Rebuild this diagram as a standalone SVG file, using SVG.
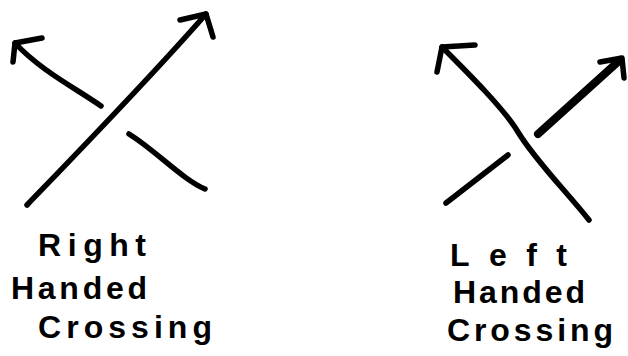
<svg xmlns="http://www.w3.org/2000/svg" width="628" height="356" viewBox="0 0 628 356">
<style>
.s{fill:none;stroke:#000;stroke-width:5.5;stroke-linecap:round;stroke-linejoin:round}
.t{font-family:"Liberation Sans","DejaVu Sans",sans-serif;font-size:32px;font-weight:bold;fill:#000}
</style>
<rect width="628" height="356" fill="#fff"/>
<g id="right-crossing">
<path class="s" d="M27,205 C80,150 150,78 206,14"/>
<path class="s" d="M180,20 L206,14 L213,37"/>
<path class="s" d="M101,106 C75,88 40,70 15,43"/>
<path class="s" d="M42,38 L15,43 L13,62"/>
<path class="s" d="M129,134 C155,150 183,180 205,189"/>
</g>
<g id="left-crossing">
<path class="s" d="M442,47 C470,75 505,110 518,132 C535,160 565,190 589,220"/>
<path class="s" d="M475,45 L442,47 L437,72"/>
<path class="s" d="M538,134 L620,60" style="stroke-width:8"/>
<path class="s" d="M600,62 L622,58 L624,78"/>
<path class="s" d="M446,203 L508,155"/>
</g>
<g id="labels">
<text class="t" x="38" y="256" textLength="108" lengthAdjust="spacing">Right</text>
<text class="t" x="11" y="299" textLength="136" lengthAdjust="spacing">Handed</text>
<text class="t" x="38" y="338" textLength="174" lengthAdjust="spacing">Crossing</text>
<text class="t" x="450" y="266" textLength="117" lengthAdjust="spacing">Left</text>
<text class="t" x="453" y="303" textLength="132" lengthAdjust="spacing">Handed</text>
<text class="t" x="447" y="341" textLength="166" lengthAdjust="spacing">Crossing</text>
</g>
</svg>
